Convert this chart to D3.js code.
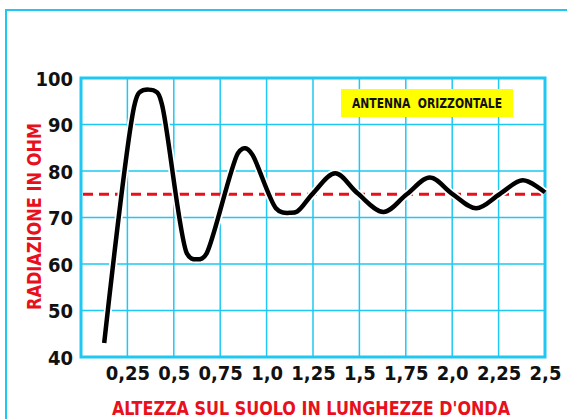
<!DOCTYPE html>
<html><head><meta charset="utf-8">
<script src="https://cdn.jsdelivr.net/npm/d3@7"></script>
<style>
html,body{margin:0;padding:0;background:#fff;}
svg text{font-family:"Liberation Sans Narrow","DejaVu Sans Condensed","Roboto Condensed",sans-serif;font-weight:bold;}
</style></head>
<body>
<svg id="chart" width="567" height="419"></svg>
<script>
// ---- data ----
const xTicks = [0.25,0.5,0.75,1.0,1.25,1.5,1.75,2.0,2.25,2.5];
const xTickLabels = ["0,25","0,5","0,75","1,0","1,25","1,5","1,75","2,0","2,25","2,5"];
const yTicks = [40,50,60,70,80,90,100];
const heightX = [0.125,0.29,0.315,0.363,0.41,0.435,0.57,0.595,0.623,0.652,0.677,0.845,0.87,0.885,0.90,0.925,1.05,1.085,1.125,1.165,1.25,1.37,1.49,1.63,1.755,1.88,2.0,2.13,2.255,2.38,2.5];
const resistance = [43,94.5,96.9,97.5,96.9,94.5,62.3,61.2,61.0,61.2,62.3,83.8,84.8,84.9,84.6,83.4,72.0,71.1,71.0,71.3,75.2,79.5,75.2,71.2,75.0,78.6,75.1,72.0,75.0,78.0,75.4];
const referenceValue = 75;
const legendLabel = "ANTENNA  ORIZZONTALE";
const yTitle = "RADIAZIONE IN OHM";
const xTitle = "ALTEZZA SUL SUOLO IN LUNGHEZZE D'ONDA";

const cyan = "#1ec8f2", red = "#e8101c";
const svg = d3.select("#chart");
const L = 81, R = 545, T = 78, B = 357;
const x = d3.scaleLinear().domain([0,2.5]).range([L,R]);
const y = d3.scaleLinear().domain([40,100]).range([B,T]);

// outer frame
svg.append("rect").attr("x",6).attr("y",10).attr("width",600).attr("height",450)
  .attr("fill","none").attr("stroke",cyan).attr("stroke-width",2);

// grid
const g = svg.append("g");
g.selectAll("line.v").data(xTicks.slice(0,-1)).join("line")
  .attr("x1",d=>x(d)).attr("x2",d=>x(d)).attr("y1",T).attr("y2",B)
  .attr("stroke",cyan).attr("stroke-width",1.5);
g.selectAll("line.h").data(yTicks.slice(1,-1)).join("line")
  .attr("y1",d=>y(d)).attr("y2",d=>y(d)).attr("x1",L).attr("x2",R)
  .attr("stroke",cyan).attr("stroke-width",1.5);
g.append("rect").attr("x",L).attr("y",T).attr("width",R-L).attr("height",B-T)
  .attr("fill","none").attr("stroke",cyan).attr("stroke-width",3);

// axes labels via d3 axes
const yAxis = svg.append("g").attr("transform",`translate(${L},0)`)
  .call(d3.axisLeft(y).tickValues(yTicks).tickSize(0).tickPadding(8));
yAxis.select(".domain").remove();
yAxis.selectAll("text").attr("font-size",20).attr("fill","#111").attr("dy","0.35em");
const xAxis = svg.append("g").attr("transform",`translate(0,${B})`)
  .call(d3.axisBottom(x).tickValues(xTicks).tickFormat((d,i)=>xTickLabels[i]).tickSize(0).tickPadding(9));
xAxis.select(".domain").remove();
xAxis.selectAll("text").attr("font-size",20).attr("fill","#111").attr("dy","0.71em");
svg.selectAll(".tick text").attr("font-family",null);

// legend
svg.append("rect").attr("x",341).attr("y",89).attr("width",172).attr("height",28).attr("fill","#ffff00");
svg.append("text").attr("x",427).attr("y",108).attr("text-anchor","middle")
  .attr("font-size",14).attr("fill","#111").style("white-space","pre")
  .attr("textLength",150).attr("lengthAdjust","spacingAndGlyphs").text(legendLabel);

// reference line
svg.append("line").attr("x1",L+2).attr("x2",R).attr("y1",y(referenceValue)).attr("y2",y(referenceValue))
  .attr("stroke",red).attr("stroke-width",3).attr("stroke-dasharray","10,6");

// curve
const line = d3.line().x((d,i)=>x(heightX[i])).y(d=>y(d)).curve(d3.curveCatmullRom.alpha(0.5));
svg.append("path").attr("d",line(resistance)).attr("fill","none")
  .attr("stroke","#fff").attr("stroke-width",8).attr("stroke-linejoin","round");
svg.append("path").attr("d",line(resistance)).attr("fill","none")
  .attr("stroke","#000").attr("stroke-width",4.5).attr("stroke-linejoin","round").attr("stroke-linecap","butt");

// titles
svg.append("text").attr("transform",`translate(41,${(123+310)/2}) rotate(-90)`)
  .attr("text-anchor","middle").attr("font-size",20).attr("fill",red)
  .attr("textLength",187).attr("lengthAdjust","spacingAndGlyphs").text(yTitle);
svg.append("text").attr("x",(112+510)/2).attr("y",415).attr("text-anchor","middle")
  .attr("font-size",19).attr("fill",red)
  .attr("textLength",398).attr("lengthAdjust","spacingAndGlyphs").text(xTitle);
</script>
</body></html>
